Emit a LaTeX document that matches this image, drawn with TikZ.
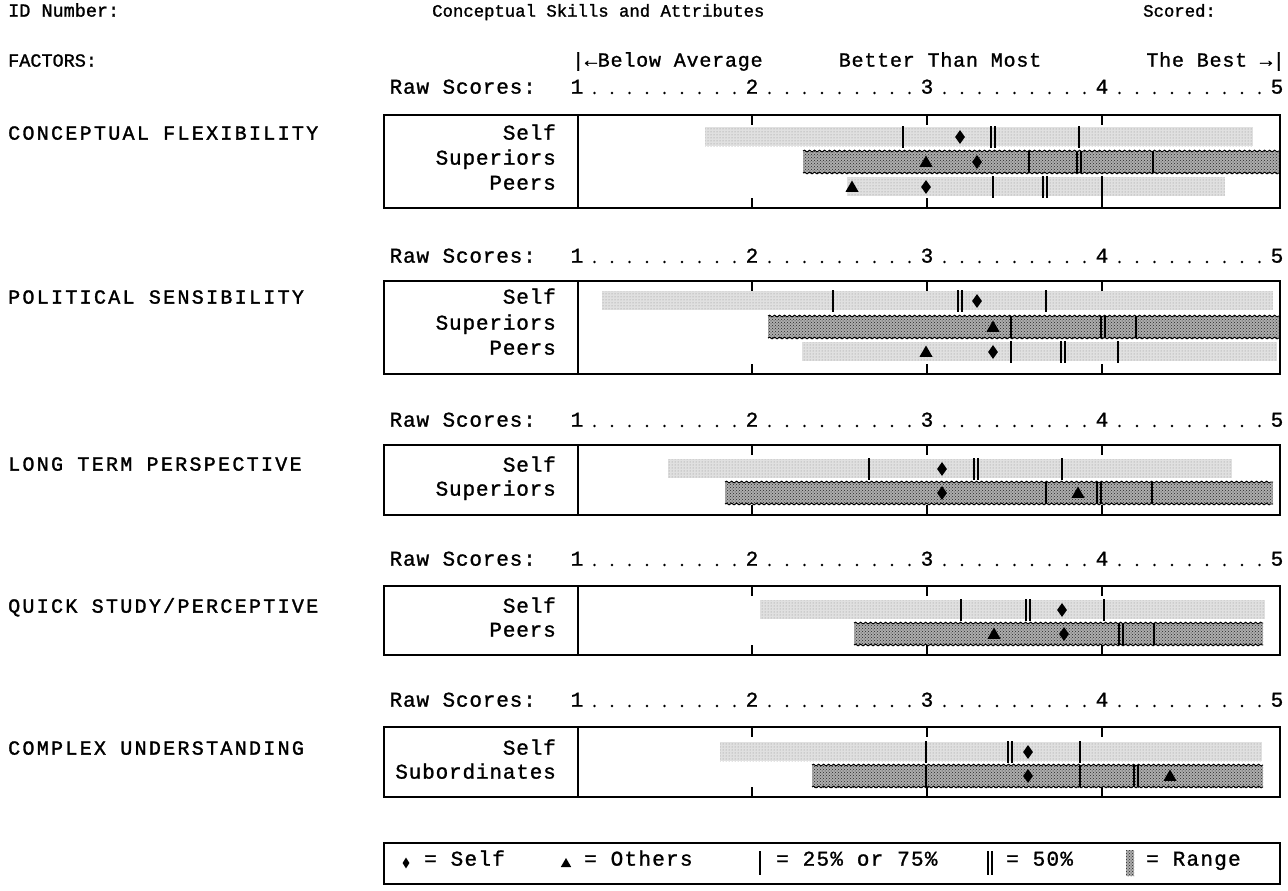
\documentclass[tikz,border=0pt]{standalone}
\usepackage{fontspec}
\setmainfont{Liberation Mono}
\newfontfamily\HeadFont[FakeBold=1.3]{Liberation Mono}
\newfontfamily\ScaleFont[FakeBold=1.2,LetterSpace=4]{Liberation Mono}
\newfontfamily\FacFont[FakeBold=1.5,LetterSpace=11.5]{Liberation Mono}
\newfontfamily\BoxFont[FakeBold=1.2,LetterSpace=4]{Liberation Mono}
\newfontfamily\LegFont[FakeBold=1.2,LetterSpace=6]{Liberation Mono}
\usetikzlibrary{patterns,shapes.geometric,decorations.pathmorphing}

\tikzset{
  frame/.style={draw=black, line width=1.3pt},
  scaletick/.style={draw=black, line width=1.2pt},
  lightbar/.style={fill=black!12, postaction={pattern=dots, pattern color=black!45}},
  darkbar/.style={fill=black!32, postaction={pattern=crosshatch dots, pattern color=black!85}},
  wavy/.style={draw=black, line width=0.9pt, decorate, decoration={snake, amplitude=0.9pt, segment length=5pt}},
  qline/.style={draw=black, line width=1.3pt},
  selfmark/.style={diamond, fill=black, inner sep=0pt, minimum width=10pt, minimum height=14pt},
  othermark/.style={regular polygon, regular polygon sides=3, fill=black, inner sep=0pt, minimum size=15pt},
  rowlabel/.style={anchor=mid east, inner sep=0pt, font=\BoxFont\fontsize{21}{21}\selectfont},
  factor/.style={anchor=mid west, inner sep=0pt, font=\FacFont\fontsize{20}{20}\selectfont},
  headtxt/.style={inner sep=0pt, font=\HeadFont\fontsize{18.5}{18.5}\selectfont},
  titletxt/.style={inner sep=0pt, font=\HeadFont\fontsize{17.3}{17.3}\selectfont},
  scaletxt/.style={inner sep=0pt, font=\ScaleFont\fontsize{20}{20}\selectfont},
  digit/.style={inner sep=0pt, anchor=mid, font=\BoxFont\fontsize{21}{21}\selectfont},
  legtxt/.style={anchor=mid west, inner sep=0pt, font=\LegFont\fontsize{21}{21}\selectfont},
}

% box frame with scale ticks: top, bottom
\newcommand\ScoreBox[2]{%
  \draw[frame] (384,#1) rectangle (1280,#2);
  \draw[frame] (578,#1) -- (578,#2);
  \foreach \t in {752,927,1102}{%
    \draw[scaletick] (\t,#1) -- (\t,#1+10);
    \draw[scaletick] (\t,#2) -- (\t,#2-10);}%
}
% raw scores line: y, name
\newcommand\RawLine[2]{%
  \node[rowlabel] (#2-lab) at (536,#1) {Raw Scores:};
  \node[digit] (#2-1) at (577,#1) {1};
  \node[digit] (#2-2) at (752,#1) {2};
  \node[digit] (#2-3) at (927,#1) {3};
  \node[digit] (#2-4) at (1102,#1) {4};
  \node[digit] (#2-5) at (1277,#1) {5};
  \foreach \u in {0,...,3}{\foreach \k in {1,...,9}{%
    \fill (577+175*\u+17.5*\k,#1+2) circle (1.3pt);}}%
}
\newcommand\Lbar[3]{\path[lightbar] (#1,#3-10) rectangle (#2,#3+9);}
\newcommand\Dbar[3]{\path[darkbar] (#1,#3-11) rectangle (#2,#3+11);
  \draw[wavy] (#1,#3-11) -- (#2,#3-11);
  \draw[wavy] (#1,#3+11) -- (#2,#3+11);}
\newcommand\Qone[2]{\draw[qline] (#1,#2-11) -- (#1,#2+11);}
\newcommand\Qtwo[2]{\draw[qline] (#1-2,#2-11) -- (#1-2,#2+11) (#1+2,#2-11) -- (#1+2,#2+11);}
\newcommand\Mself[2]{\node[selfmark] (s-#1-#2) at (#1,#2) {};}
\newcommand\Mother[2]{\node[othermark] (o-#1-#2) at (#1,#2+1) {};}

\begin{document}
\begin{tikzpicture}[x=1pt,y=-1pt]
\useasboundingbox (0,0) rectangle (1288,891);
\fill[white] (0,0) rectangle (1288,891);

% ---------- header ----------
\node[headtxt, anchor=mid west] (idnum) at (8,14) {ID Number:};
\node[titletxt, anchor=mid west] (title) at (432,14) {Conceptual Skills and Attributes};
\node[titletxt, anchor=mid west] (scored) at (1143,14) {Scored:};
\node[headtxt, anchor=mid west] (factors) at (8,64) {FACTORS:};
\node[scaletxt, anchor=mid west] (below) at (572,64) {|←Below Average};
\node[scaletxt, anchor=mid] (better) at (940,64) {Better Than Most};
\node[scaletxt, anchor=mid east] (best) at (1285,64) {The Best →|};

% ---------- factor labels ----------
\node[factor] (f1) at (8,137) {CONCEPTUAL FLEXIBILITY};
\node[factor] (f2) at (8,301) {POLITICAL SENSIBILITY};
\node[factor] (f3) at (8,468) {LONG TERM PERSPECTIVE};
\node[factor] (f4) at (8,610) {QUICK STUDY/PERCEPTIVE};
\node[factor] (f5) at (8,752) {COMPLEX UNDERSTANDING};

% ---------- box 1 ----------
\RawLine{91}{r1}
\Lbar{705}{1253}{137}
\Dbar{803}{1280}{162}
\Lbar{847}{1225}{187}
\ScoreBox{115}{208}
\node[rowlabel] (b1-self) at (556,137) {Self};
\node[rowlabel] (b1-sup) at (556,162) {Superiors};
\node[rowlabel] (b1-peer) at (556,187) {Peers};
\Qone{903}{137}\Qtwo{993}{137}\Qone{1079}{137}\Mself{960}{137}
\Qone{1029}{162}\Qtwo{1079}{162}\Qone{1153}{162}\Mother{926}{162}\Mself{977}{162}
\Qone{993}{187}\Qtwo{1045}{187}\Qone{1102}{187}\Mother{852}{187}\Mself{926}{187}

% ---------- box 2 ----------
\RawLine{260}{r2}
\Lbar{602}{1273}{301}
\Dbar{768}{1280}{327}
\Lbar{802}{1277}{352}
\ScoreBox{281}{374}
\node[rowlabel] (b2-self) at (556,301) {Self};
\node[rowlabel] (b2-sup) at (556,327) {Superiors};
\node[rowlabel] (b2-peer) at (556,352) {Peers};
\Qone{833}{301}\Qtwo{960}{301}\Qone{1046}{301}\Mself{977}{301}
\Qone{1011}{327}\Qtwo{1103}{327}\Qone{1136}{327}\Mother{993}{327}
\Qone{1011}{352}\Qtwo{1063}{352}\Qone{1118}{352}\Mother{926}{352}\Mself{993}{352}

% ---------- box 3 ----------
\RawLine{424}{r3}
\Lbar{668}{1232}{469}
\Dbar{725}{1273}{493}
\ScoreBox{445}{515}
\node[rowlabel] (b3-self) at (556,469) {Self};
\node[rowlabel] (b3-sup) at (556,493) {Superiors};
\Qone{869}{469}\Qtwo{976}{469}\Qone{1062}{469}\Mself{942}{469}
\Qone{1046}{493}\Qtwo{1099}{493}\Qone{1152}{493}\Mself{942}{493}\Mother{1078}{493}

% ---------- box 4 ----------
\RawLine{563}{r4}
\Lbar{760}{1265}{610}
\Dbar{854}{1263}{634}
\ScoreBox{586}{655}
\node[rowlabel] (b4-self) at (556,610) {Self};
\node[rowlabel] (b4-peer) at (556,634) {Peers};
\Qone{961}{610}\Qtwo{1028}{610}\Qone{1104}{610}\Mself{1062}{610}
\Qtwo{1121}{634}\Qone{1154}{634}\Mother{994}{634}\Mself{1064}{634}

% ---------- box 5 ----------
\RawLine{704}{r5}
\Lbar{720}{1262}{752}
\Dbar{812}{1263}{776}
\ScoreBox{727}{797}
\node[rowlabel] (b5-self) at (556,752) {Self};
\node[rowlabel] (b5-sub) at (556,776) {Subordinates};
\Qone{926}{752}\Qtwo{1010}{752}\Qone{1080}{752}\Mself{1028}{752}
\Qone{926}{776}\Qone{1080}{776}\Qtwo{1136}{776}\Mself{1028}{776}\Mother{1170}{776}

% ---------- legend ----------
\draw[frame] (384,843) rectangle (1280,884);
\node[selfmark, minimum width=7pt, minimum height=11pt] (lg-self) at (406,863) {};
\node[legtxt] (lg-selft) at (424,863) {= Self};
\node[othermark, minimum size=12pt] (lg-oth) at (566,864) {};
\node[legtxt] (lg-otht) at (584,863) {= Others};
\draw[qline] (760,851) -- (760,875);
\node[legtxt] (lg-q) at (776,863) {= 25\% or 75\%};
\draw[qline] (988,851) -- (988,875) (992,851) -- (992,875);
\node[legtxt] (lg-m) at (1006,863) {= 50\%};
\path[darkbar] (1126,850) rectangle (1134,876);
\node[legtxt] (lg-r) at (1146,863) {= Range};
\end{tikzpicture}
\end{document}
